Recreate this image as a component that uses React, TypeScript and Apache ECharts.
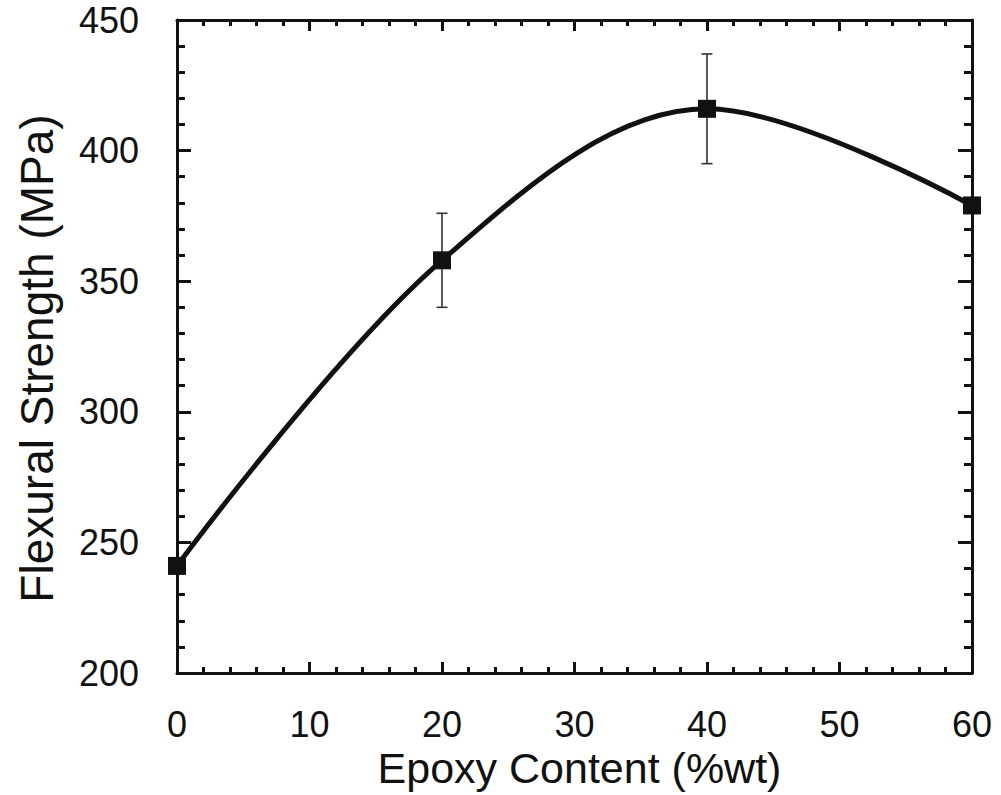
import React, { useEffect, useRef } from "react";
import * as echarts from "echarts";

const epoxyContent = [0, 20, 40, 60];
const flexuralStrength = [241, 358, 416, 379];
const errorLow = [241, 340, 395, 379];
const errorHigh = [241, 376, 437, 379];
const xTicks = { min: 0, max: 60, interval: 10 };
const yTicks = { min: 200, max: 450, interval: 50 };

const FONT = "'Liberation Sans', Arial, Helvetica, sans-serif";
const INK = "#111";

export default function App() {
  const ref = useRef<HTMLDivElement>(null);
  useEffect(() => {
    if (!ref.current) return;
    const chart = echarts.init(ref.current, undefined, { renderer: "svg" });
    const lineData = epoxyContent.map((x, i) => [x, flexuralStrength[i]]);
    const errData = epoxyContent.map((x, i) => [x, errorLow[i], errorHigh[i]]);

    const axisCommon = {
      axisLine: { show: true, onZero: false, lineStyle: { color: INK, width: 3 } },
      splitLine: { show: false },
      minorSplitLine: { show: false },
    };
    const xCommon = {
      ...axisCommon,
      type: "value",
      min: xTicks.min,
      max: xTicks.max,
      interval: xTicks.interval,
      axisTick: { show: true, inside: true, length: 11, lineStyle: { color: INK, width: 3 } },
      minorTick: { show: true, splitNumber: 5, length: 6, lineStyle: { color: INK, width: 3 } },
    };
    const yCommon = {
      ...axisCommon,
      type: "value",
      min: yTicks.min,
      max: yTicks.max,
      interval: yTicks.interval,
      axisTick: { show: true, inside: true, length: 14, lineStyle: { color: INK, width: 3 } },
      minorTick: { show: true, splitNumber: 5, length: 8, lineStyle: { color: INK, width: 3 } },
    };

    chart.setOption({
      animation: false,
      backgroundColor: "#ffffff",
      grid: { left: 177, top: 20, width: 795, height: 653, containLabel: false },
      xAxis: [
        {
          ...xCommon,
          position: "bottom",
          axisLabel: { show: true, fontFamily: FONT, fontSize: 36, color: INK, margin: 33 },
          name: "Epoxy Content (%wt)",
          nameLocation: "middle",
          nameGap: 70,
          nameTextStyle: { fontFamily: FONT, fontSize: 43, color: INK, padding: [0, 0, 0, 10] },
        },
        { ...xCommon, position: "top", axisLabel: { show: false } },
      ],
      yAxis: [
        {
          ...yCommon,
          position: "left",
          axisLabel: { show: true, fontFamily: FONT, fontSize: 36, color: INK, margin: 38 },
          name: "Flexural Strength (MPa)",
          nameLocation: "middle",
          nameGap: 117,
          nameTextStyle: { fontFamily: FONT, fontSize: 46, color: INK, padding: [0, 24, 0, 0] },
        },
        { ...yCommon, position: "right", axisLabel: { show: false } },
      ],
      series: [
        {
          type: "custom",
          xAxisIndex: 0,
          yAxisIndex: 0,
          z: 1,
          data: errData,
          renderItem: (params: any, api: any) => {
            const x = api.value(0);
            const lo = api.coord([x, api.value(1)]);
            const hi = api.coord([x, api.value(2)]);
            const half = 5.5;
            const style = { stroke: "#333", lineWidth: 1.6 };
            return {
              type: "group",
              children: [
                { type: "line", shape: { x1: lo[0], y1: lo[1], x2: hi[0], y2: hi[1] }, style },
                { type: "line", shape: { x1: lo[0] - half, y1: lo[1], x2: lo[0] + half, y2: lo[1] }, style },
                { type: "line", shape: { x1: hi[0] - half, y1: hi[1], x2: hi[0] + half, y2: hi[1] }, style },
              ],
            };
          },
        },
        {
          type: "line",
          xAxisIndex: 0,
          yAxisIndex: 0,
          z: 3,
          data: lineData,
          smooth: 0.35,
          symbol: "rect",
          symbolSize: 18,
          itemStyle: { color: INK },
          lineStyle: { color: INK, width: 5 },
        },
      ],
    });
    return () => chart.dispose();
  }, []);
  return (
    <div
      ref={ref}
      style={{ position: "fixed", left: 0, top: 0, width: 1001, height: 795 }}
    />
  );
}
